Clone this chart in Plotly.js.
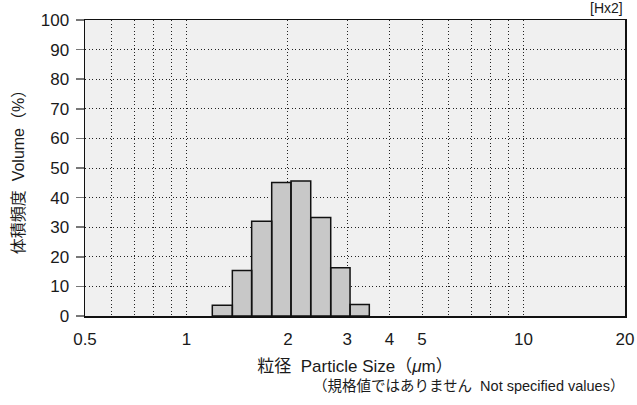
<!DOCTYPE html>
<html>
<head>
<meta charset="utf-8">
<script src="https://cdn.plot.ly/plotly-3.0.1.min.js"></script>
<style>html,body{margin:0;padding:0;background:#fff;}#chart{width:637px;height:405px;}</style>
</head>
<body>
<div id="chart"></div>
<script>
// Bin edges (µm) and volume frequency (%) per bin
const binEdges = [1.193, 1.368, 1.561, 1.790, 2.042, 2.337, 2.679, 3.057, 3.487];
const volumeFreq = [3.6, 15.4, 32.0, 45.1, 45.6, 33.3, 16.3, 3.9];
const xTickVals = [0.5, 0.6, 0.7, 0.8, 0.9, 1, 2, 3, 4, 5, 6, 7, 8, 9, 10, 20];
const xTickText = ['0.5', '', '', '', '', '1', '2', '3', '4', '5', '', '', '', '', '10', '20'];
const yTickVals = [0, 10, 20, 30, 40, 50, 60, 70, 80, 90, 100];

const latin = '"Liberation Sans", Arial, "Noto Sans CJK JP", sans-serif';

// build closed outlines for each bar
const bx = [], by = [];
for (let i = 0; i < volumeFreq.length; i++) {
  const a = binEdges[i], b = binEdges[i + 1], h = volumeFreq[i];
  bx.push(a, a, b, b, a, null);
  by.push(0, h, h, 0, 0, null);
}

const traces = [{
  type: 'scatter', mode: 'lines', x: bx, y: by,
  fill: 'toself', fillcolor: '#c8c8c8',
  line: {color: '#111', width: 1.5},
  connectgaps: false, hoverinfo: 'skip', showlegend: false
}];

const layout = {
  width: 637, height: 405,
  margin: {l: 85, r: 12, t: 20, b: 89},
  paper_bgcolor: '#ffffff', plot_bgcolor: '#f0f0f0',
  font: {family: latin, color: '#1a1a1a', size: 16},
  showlegend: false,
  xaxis: {
    type: 'log',
    range: [Math.log10(0.5), Math.log10(20)],
    tickvals: xTickVals, ticktext: xTickText,
    ticks: '', showgrid: true, gridcolor: '#222', griddash: '1px,2.5px', gridwidth: 1,
    showline: true, linecolor: '#111', linewidth: 1.5, mirror: true,
    zeroline: false,
    tickfont: {size: 17, family: latin},
    ticklabelstandoff: 7,
    title: {text: '粒径  Particle Size（<i>μ</i>m）', font: {size: 17, family: latin}, standoff: 12}
  },
  yaxis: {
    range: [0, 100], tickvals: yTickVals,
    ticks: 'outside', ticklen: 8, tickcolor: '#777', tickwidth: 1.5,
    showgrid: true, gridcolor: '#222', griddash: '1px,2.5px', gridwidth: 1,
    showline: true, linecolor: '#111', linewidth: 1.5, mirror: true,
    zeroline: false,
    tickfont: {size: 17, family: latin},
    ticklabelstandoff: 3,
    title: {text: '体積頻度  Volume（%）', font: {size: 16, family: latin}, standoff: 12}
  },
  annotations: [
    {text: '[Hx2]', xref: 'paper', yref: 'paper', x: 1, y: 1, xanchor: 'right', yanchor: 'bottom',
     yshift: 2, showarrow: false, font: {size: 14, family: latin, color: '#1a1a1a'}},
    {text: '（規格値ではありません  Not specified values）', xref: 'paper', yref: 'paper', x: 1, y: 0,
     xanchor: 'right', yanchor: 'middle', yshift: -70, xshift: 1, showarrow: false,
     font: {size: 14.5, family: latin, color: '#1a1a1a'}}
  ]
};

Plotly.newPlot('chart', traces, layout, {staticPlot: true, displayModeBar: false});
</script>
</body>
</html>
